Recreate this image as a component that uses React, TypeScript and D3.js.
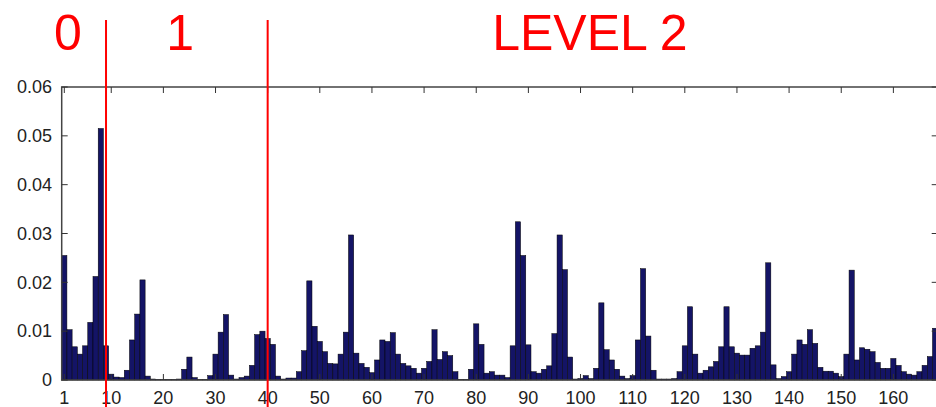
import React from 'react';
import * as d3 from 'd3';

// bar heights, bins 1..168
const values = [
  0.0255, 0.0103, 0.0068, 0.0053, 0.007, 0.0118, 0.0212, 0.0515, 0.007, 0.0012,
  0.0006, 0.0005, 0.002, 0.0082, 0.0135, 0.0205, 0.0008, 0.0002, 0.0001, 0.0001,
  0.0001, 0.0001, 0.0002, 0.0022, 0.0047, 0.0005, 0.0001, 0.0001, 0.0009, 0.0053,
  0.0098, 0.0134, 0.001, 0.0002, 0.0005, 0.0008, 0.003, 0.0093, 0.01, 0.0085,
  0.0073, 0.0008, 0.0002, 0.0004, 0.0004, 0.0017, 0.006, 0.0203, 0.011, 0.0079,
  0.0058, 0.0034, 0.0033, 0.0053, 0.0098, 0.0297, 0.0055, 0.0034, 0.0026, 0.0015,
  0.0041, 0.0082, 0.0079, 0.0097, 0.0053, 0.0034, 0.0029, 0.0024, 0.0014, 0.0024,
  0.0038, 0.0103, 0.0042, 0.0058, 0.005, 0.0017, 0.0001, 0.0001, 0.0022, 0.0115,
  0.0073, 0.0014, 0.0017, 0.001, 0.001, 0.0005, 0.007, 0.0324, 0.0255, 0.0072,
  0.0017, 0.0014, 0.0022, 0.0029, 0.0095, 0.0297, 0.0226, 0.0047, 0.0002, 0.0003,
  0.0009, 0.0003, 0.0024, 0.0158, 0.0062, 0.0041, 0.0022, 0.0008, 0.0003, 0.0009,
  0.0082, 0.0228, 0.009, 0.002, 0.0002, 0.0002, 0.0002, 0.0003, 0.0017, 0.007,
  0.015, 0.0053, 0.0014, 0.002, 0.0027, 0.0038, 0.0068, 0.015, 0.0068, 0.0055,
  0.0051, 0.0051, 0.0065, 0.007, 0.0098, 0.024, 0.0031, 0.0003, 0.0007, 0.0017,
  0.0053, 0.0082, 0.0073, 0.0103, 0.0075, 0.0026, 0.0018, 0.0018, 0.0014, 0.0007,
  0.0053, 0.0225, 0.0041, 0.0066, 0.0063, 0.0058, 0.0036, 0.0024, 0.0024, 0.0044,
  0.003, 0.0017, 0.0012, 0.001, 0.0017, 0.003, 0.0048, 0.0106,
];

const xTicks = [1, 10, 20, 30, 40, 50, 60, 70, 80, 90, 100, 110, 120, 130, 140, 150, 160];
const yTicks = [0, 0.01, 0.02, 0.03, 0.04, 0.05, 0.06];

// level boundaries (bin index) and the level names above the plot
const dividers = [9, 40];
const levelNames = ['0', '1', 'LEVEL 2'];
const levelAt = [1.7, 23.2, 101.8];

const W = 936;
const H = 407;
const font = '"Liberation Sans", Arial, sans-serif';

export default function App() {
  const x = d3.scaleLinear().domain([0.5, values.length + 0.5]).range([61.7, 937.7]);
  const y = d3.scaleLinear().domain([0, 0.06]).range([380, 87]);
  const bw = x(1.5) - x(0.5);
  const [x0, x1] = x.range();
  const [y0, y1] = y.range();

  return (
    <svg width={W} height={H} style={{ position: 'fixed', left: 0, top: 0, background: '#fff' }}>
      <rect x={0} y={0} width={W} height={H} fill="#fff" />

      {values.map((v, i) => (
        <rect key={i} x={x(i + 0.5)} y={y(v)} width={bw} height={y(0) - y(v)}
          fill="#141466" stroke="#000" strokeWidth={0.5} />
      ))}

      {/* frame */}
      <rect x={x0} y={y1} width={x1 - x0} height={y0 - y1} fill="none" stroke="#444" strokeWidth={1.5} />

      {yTicks.map(t => (
        <g key={t}>
          <line x1={x0} x2={x0 + 6} y1={y(t)} y2={y(t)} stroke="#333" />
          <line x1={x1} x2={x1 - 6} y1={y(t)} y2={y(t)} stroke="#333" />
          <text x={52} y={y(t)} dy="0.35em" textAnchor="end" fontFamily={font} fontSize={18} fill="#222">
            {t === 0 ? '0' : t.toFixed(2)}
          </text>
        </g>
      ))}

      {xTicks.map(t => (
        <g key={t}>
          <line x1={x(t)} x2={x(t)} y1={y0} y2={y0 - 6} stroke="#333" />
          <line x1={x(t)} x2={x(t)} y1={y1} y2={y1 + 6} stroke="#333" />
          <text x={x(t)} y={404} textAnchor="middle" fontFamily={font} fontSize={18} fill="#222">{t}</text>
        </g>
      ))}

      {dividers.map(d => (
        <line key={d} x1={x(d)} x2={x(d)} y1={20} y2={H} stroke="#ff0000" strokeWidth={2} />
      ))}

      {levelNames.map((n, i) => (
        <text key={n} x={x(levelAt[i])} y={50} textAnchor="middle" fontFamily={font} fontSize={50} fill="#ff0000">{n}</text>
      ))}
    </svg>
  );
}
